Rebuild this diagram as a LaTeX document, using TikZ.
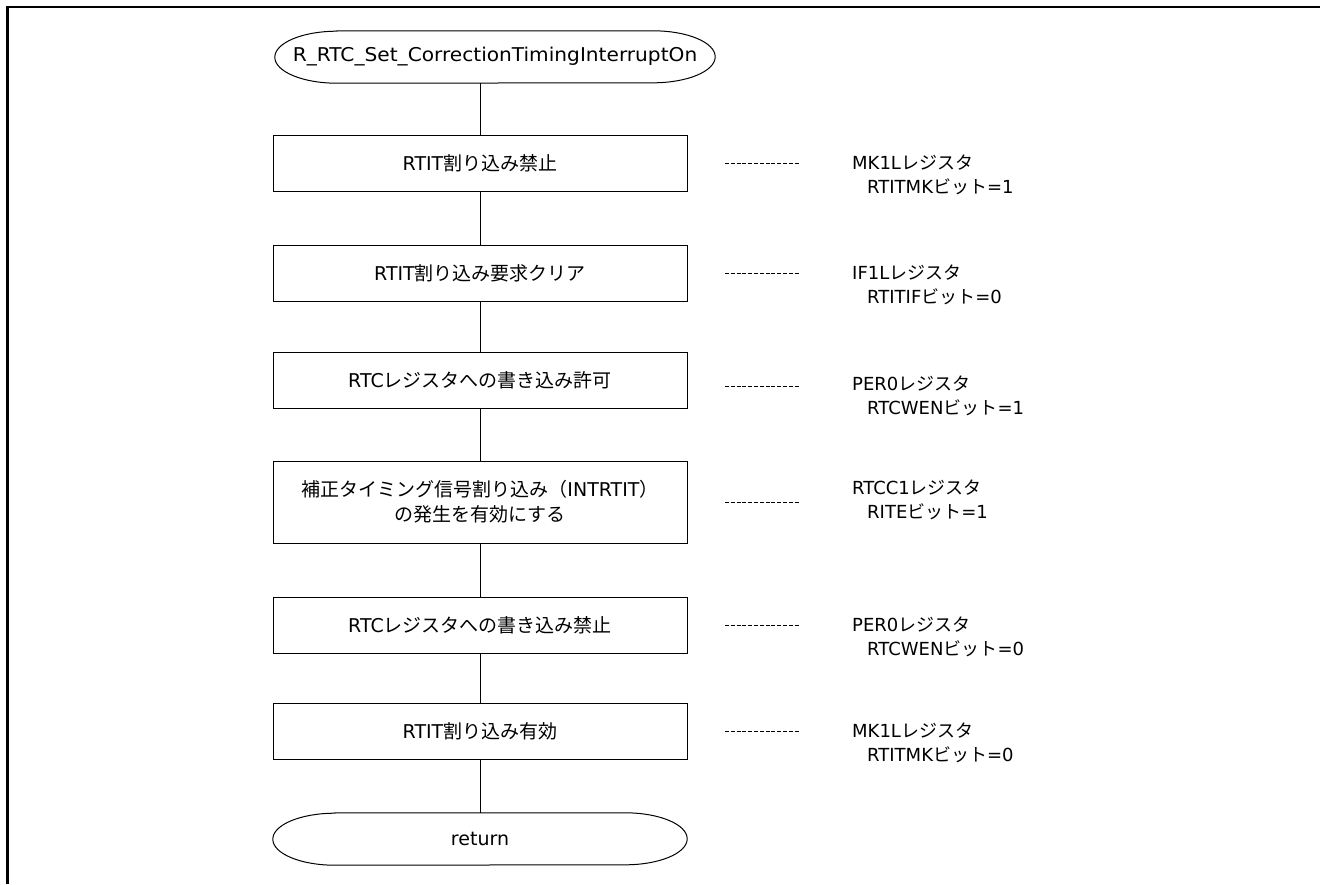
\documentclass[tikz,border=0pt]{standalone}
\usepackage{fontspec}
\setmainfont{DejaVu Sans}
\newfontfamily\jp{Noto Sans CJK JP}
\begin{document}
\begin{tikzpicture}[x=1pt,y=1pt,
  every node/.style={font=\fontsize{18}{25}\selectfont},
  proc/.style={draw, line width=1pt, minimum width=414pt, minimum height=56pt, inner sep=0pt, align=center, font=\fontsize{19}{25}\selectfont},
  term/.style={minimum width=#1, minimum height=52pt, inner sep=0pt, font=\fontsize{19}{25}\selectfont},
  line/.style={line width=1pt},
  dots/.style={line width=0.8pt, dash pattern=on 4pt off 1.8pt},
  note/.style={anchor=west, inner sep=0pt},
  frame/.style={line width=2.5pt}]
\useasboundingbox (0,0) rectangle (1320,-884);
\draw[frame] (7.5,-884) -- (7.5,-7) -- (1320,-7);

\node[term=440pt] (start) at (495,-57) {\addfontfeature{FakeStretch=1.06}R\_RTC\_Set\_CorrectionTimingInterruptOn};
\node[proc] (b1) at (480,-163) {RTIT{\jp 割り込み禁止}};
\node[proc] (b2) at (480,-273) {RTIT{\jp 割り込み要求クリア}};
\node[proc] (b3) at (480,-380) {RTC{\jp レジスタへの書き込み許可}};
\node[proc, minimum height=82pt] (b4) at (480,-502) {{\jp 補正タイミング信号割り込み（}INTRTIT{\jp ）}\\{\jp の発生を有効にする}};
\node[proc] (b5) at (480,-625) {RTC{\jp レジスタへの書き込み禁止}};
\node[proc] (b6) at (480,-731) {RTIT{\jp 割り込み有効}};
\node[term=414pt] (ret) at (480,-839) {return};

\draw[line] ([xshift=62pt]start.north west) -- ([xshift=-62pt]start.north east)
  arc[start angle=90, end angle=-90, x radius=62pt, y radius=26pt]
  -- ([xshift=62pt]start.south west)
  arc[start angle=270, end angle=90, x radius=62pt, y radius=26pt] -- cycle;
\draw[line] ([xshift=62pt]ret.north west) -- ([xshift=-62pt]ret.north east)
  arc[start angle=90, end angle=-90, x radius=62pt, y radius=26pt]
  -- ([xshift=62pt]ret.south west)
  arc[start angle=270, end angle=90, x radius=62pt, y radius=26pt] -- cycle;

\draw[line] (b1.north |- start.south) -- (b1.north);
\draw[line] (b1.south) -- (b2.north);
\draw[line] (b2.south) -- (b3.north);
\draw[line] (b3.south) -- (b4.north);
\draw[line] (b4.south) -- (b5.north);
\draw[line] (b5.south) -- (b6.north);
\draw[line] (b6.south) -- (ret.north);

\coordinate (d1a) at (725,-163); \coordinate (d1b) at (800,-163);
\coordinate (d2a) at (725,-273); \coordinate (d2b) at (800,-273);
\coordinate (d3a) at (725,-386); \coordinate (d3b) at (800,-386);
\coordinate (d4a) at (725,-502); \coordinate (d4b) at (800,-502);
\coordinate (d5a) at (725,-625); \coordinate (d5b) at (800,-625);
\coordinate (d6a) at (725,-731); \coordinate (d6b) at (800,-731);
\foreach \i in {1,...,6} {\draw[dots] (d\i a) -- (d\i b);}

\node[note] (n1a) at (852,-163) {MK1L{\jp レジスタ}};
\node[note] (n1b) at (867,-187) {RTITMK{\jp ビット}=1};
\node[note] (n2a) at (852,-273) {IF1L{\jp レジスタ}};
\node[note] (n2b) at (867,-297) {RTITIF{\jp ビット}=0};
\node[note] (n3a) at (852,-384) {PER0{\jp レジスタ}};
\node[note] (n3b) at (867,-408) {RTCWEN{\jp ビット}=1};
\node[note] (n4a) at (852,-488) {RTCC1{\jp レジスタ}};
\node[note] (n4b) at (867,-512) {RITE{\jp ビット}=1};
\node[note] (n5a) at (852,-625) {PER0{\jp レジスタ}};
\node[note] (n5b) at (867,-649) {RTCWEN{\jp ビット}=0};
\node[note] (n6a) at (852,-731) {MK1L{\jp レジスタ}};
\node[note] (n6b) at (867,-755) {RTITMK{\jp ビット}=0};
\end{tikzpicture}
\end{document}
